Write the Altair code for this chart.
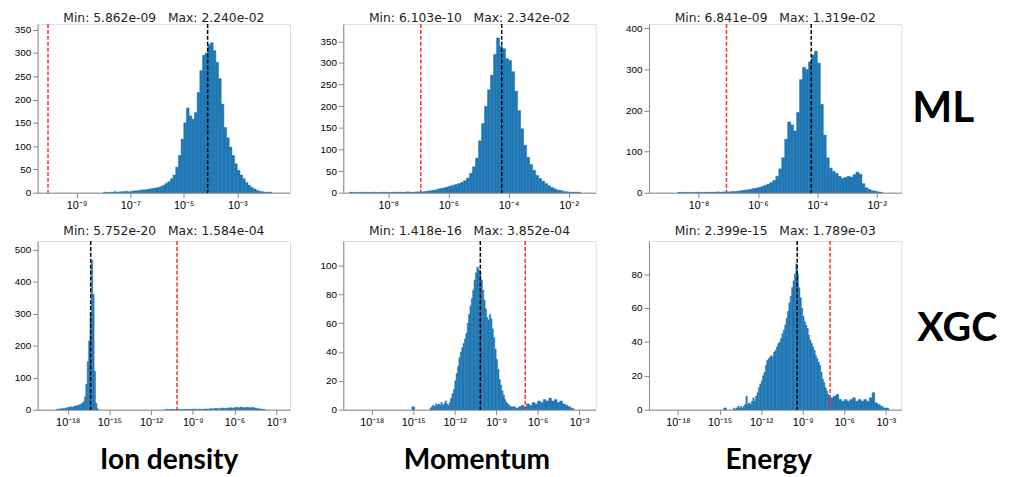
import altair as alt
import pandas as pd

# ---------------- data (log10 bin start, bin width in decades, counts) ----------------
ml_ion_start, ml_ion_step = -8.0, 0.1
ml_ion_counts = [1, 0, 1, 1, 2, 1, 2, 2, 3, 2,
                 3, 4, 4, 5, 6, 6, 7, 8, 9, 10,
                 11, 13, 16, 20, 24, 30, 38, 55, 80, 115,
                 150, 182, 165, 158, 172, 215, 262, 295, 300, 318,
                 322, 305, 280, 245, 190, 140, 118, 98, 80, 62,
                 48, 38, 30, 22, 16, 11, 8, 5, 3, 2,
                 1, 1, 1]

ml_mom_start, ml_mom_step = -9.3, 0.1
ml_mom_counts = [1, 0, 1, 0, 1, 1, 0, 1, 1, 0, 1, 1, 1, 0, 1, 1, 1, 1, 1, 2, 1, 1, 2,
                 2, 2, 3, 4, 5, 6, 8, 10, 11, 13,
                 15, 17, 19, 21, 24, 28, 34, 45, 60, 80,
                 120, 160, 200, 238, 272, 320, 358, 338, 333, 310,
                 306, 280, 235, 190, 148, 110, 82, 65, 52, 40,
                 33, 27, 21, 16, 12, 9, 6, 5, 3, 2,
                 1, 1, 1, 1]

ml_en_start, ml_en_step = -8.7, 0.1
ml_en_counts = [1, 0, 1, 1, 0, 1, 1, 1, 0, 1, 1, 1, 1, 2, 1, 2, 2,
                2, 3, 3, 4, 5, 6, 7, 8, 10, 11,
                13, 15, 18, 21, 25, 30, 40, 58, 85, 130,
                172, 165, 150, 195, 275, 305, 300, 318, 335, 344,
                315, 215, 140, 85, 60, 52, 47, 40, 35, 37,
                40, 38, 44, 50, 45, 22, 12, 8, 5, 4,
                2, 1]

xgc_ion_core_start, xgc_ion_core_step = -18.8, 0.1
xgc_ion_core_counts = [2, 0, 3, 2, 4, 3, 5, 6, 7, 8, 9, 8, 10, 11, 12, 13, 15, 17,
                       20, 25, 40, 80, 150, 215, 300, 467, 360, 120, 20, 3]
xgc_ion_tail_start, xgc_ion_tail_step = -11.0, 0.2
xgc_ion_tail_counts = [1, 0, 1, 0, 1, 1, 0, 1, 1, 1, 2, 1, 2, 1, 2, 2, 3, 3,
                       4, 3, 5, 4, 5, 6, 5, 7, 6, 8, 6, 7, 6, 7, 5, 3, 2, 1]

xgc_mom_speck_start, xgc_mom_speck_step = -15.1, 0.2
xgc_mom_speck_counts = [2]
xgc_mom_core_start, xgc_mom_core_step = -13.8, 0.1
xgc_mom_core_counts = [1, 2, 3, 2, 4, 3, 4, 3, 5, 3, 4, 6, 4, 3, 5, 8, 11, 14, 20, 25,
                       30, 36, 40, 43, 46, 49, 53, 60, 66, 72, 77, 83, 90, 95, 99, 97,
                       95, 90, 83, 76, 70, 64, 62, 66, 63, 56, 50, 42, 35, 28, 21, 17,
                       13, 10, 7, 5, 4, 3]
xgc_mom_tail_start, xgc_mom_tail_step = -8.0, 0.2
xgc_mom_tail_counts = [2, 2, 1, 2, 3, 2, 4, 3, 5, 4, 6, 5, 7, 6, 8, 6, 7, 5, 6, 4, 3, 2, 1]

xgc_en_speck_start, xgc_en_speck_step = -14.7, 0.2
xgc_en_speck_counts = [1]
xgc_en_core_start, xgc_en_core_step = -14.0, 0.1
xgc_en_core_counts = [1, 0, 1, 2, 1, 2, 1, 2, 3, 8, 3, 4, 3, 5, 7, 5, 8, 10, 13, 15,
                      17, 20, 22, 26, 29, 30, 31, 32, 31, 34, 35, 37, 39, 40, 42, 45,
                      47, 50, 54, 58, 63, 67, 72, 76, 80, 86, 80, 72, 66, 60, 55, 52,
                      50, 48, 44, 41, 39, 37, 35, 32, 30, 28, 26, 22, 18, 16, 13, 11, 9, 8]
xgc_en_tail_start, xgc_en_tail_step = -7.0, 0.2
xgc_en_tail_counts = [7, 8, 9, 6, 5, 6, 5, 6, 7, 5, 6, 5, 6, 5, 7, 10, 4, 3, 2, 1, 1]

# threshold (red) and central (black) markers
ml_red = [8.5e-11, 1.2e-07, 8.7e-08]
ml_black = [7.8e-05, 5.9e-05, 6.2e-05]
xgc_red = [7.4e-11, 1.26e-07, 9.3e-08]
xgc_black = [4.5e-17, 7.1e-11, 4.0e-10]

GAP = "\u00a0\u00a0\u00a0"
titles_ml = ["Min: 5.862e-09" + GAP + "Max: 2.240e-02",
             "Min: 6.103e-10" + GAP + "Max: 2.342e-02",
             "Min: 6.841e-09" + GAP + "Max: 1.319e-02"]
titles_xgc = ["Min: 5.752e-20" + GAP + "Max: 1.584e-04",
              "Min: 1.418e-16" + GAP + "Max: 3.852e-04",
              "Min: 2.399e-15" + GAP + "Max: 1.789e-03"]
columns = ["Ion density", "Momentum", "Energy"]
rows = ["ML", "XGC"]

# axis limits (log10) and y ranges
ml_xlim = [(-10.46, -1.03), (-9.5, -1.1), (-9.67, -1.17)]
xgc_xlim = [(-20.17, -2.0), (-20.06, -1.8), (-20.09, -1.88)]
ml_ymax = [362, 390, 410]
xgc_ymax = [527, 117, 99.5]
ml_yticks = [[0, 50, 100, 150, 200, 250, 300, 350],
             [0, 50, 100, 150, 200, 250, 300, 350],
             [0, 100, 200, 300, 400]]
xgc_yticks = [[0, 100, 200, 300, 400, 500],
              [0, 20, 40, 60, 80, 100],
              [0, 20, 40, 60, 80]]
ml_xticks = [[-9, -7, -5, -3], [-8, -6, -4, -2], [-8, -6, -4, -2]]
xgc_xticks = [-18, -15, -12, -9, -6, -3]

W, H = 256, 171
SUP = {"-": "\u207b", "0": "\u2070", "1": "\u00b9", "2": "\u00b2", "3": "\u00b3",
       "4": "\u2074", "5": "\u2075", "6": "\u2076", "7": "\u2077", "8": "\u2078", "9": "\u2079"}


def sup_label(e):
    return "10" + "".join(SUP[c] for c in str(e))


def label_expr(exps):
    expr = "''"
    for e in reversed(exps):
        expr = f"round(log(datum.value)/LN10) == {e} ? '{sup_label(e)}' : " + expr
    return expr


def hist_frame(segments):
    recs = []
    for start, step, counts in segments:
        for i, c in enumerate(counts):
            a = start + i * step
            recs.append({"x0": 10 ** a, "x1": 10 ** (a + step), "n": c})
    return pd.DataFrame(recs)


def panel(segments, xlim, ymax, yticks, xticks, red, black, title, title_offset,
          xtitle=None, titlex=None, rowlabel=None, rowlabel_pos=None, rowlabel_size=43):
    df = hist_frame(segments)
    xscale = alt.Scale(type="log", domain=[10 ** xlim[0], 10 ** xlim[1]], nice=False)
    yscale = alt.Scale(domain=[0, ymax], nice=False)
    common = dict(values=[10 ** e for e in xticks], labelExpr=label_expr(xticks),
                  grid=False, labelFontSize=11)
    if xtitle:
        xaxis = alt.Axis(title=xtitle, titleFont="Lato", titleFontSize=28.5,
                         titleFontWeight="bold", titleColor="black", titlePadding=19,
                         titleX=titlex, **common)
    else:
        xaxis = alt.Axis(title=None, **common)
    bars = alt.Chart(df).mark_rect(color="#1f77b4", stroke="#1f77b4", strokeWidth=0.5).encode(
        x=alt.X("x0:Q", scale=xscale, axis=xaxis),
        x2="x1:Q",
        y=alt.Y("n:Q", scale=yscale, axis=alt.Axis(values=yticks, title=None, grid=False)),
        y2=alt.datum(0),
    )
    red_rule = alt.Chart(pd.DataFrame({"x0": [red]})).mark_rule(
        color="#ff2a2a", strokeDash=[4, 2], strokeWidth=1.5).encode(x=alt.X("x0:Q", scale=xscale))
    black_rule = alt.Chart(pd.DataFrame({"x0": [black]})).mark_rule(
        color="black", strokeDash=[4, 2], strokeWidth=1.5).encode(x=alt.X("x0:Q", scale=xscale))
    layers = [bars, red_rule, black_rule]
    if rowlabel:
        lx, ly = rowlabel_pos
        txt = alt.Chart(pd.DataFrame({"t": [rowlabel]})).mark_text(
            font="Lato", fontSize=rowlabel_size, fontWeight="bold", align="left",
            baseline="alphabetic", color="black").encode(
            text="t:N", x=alt.value(lx), y=alt.value(ly))
        layers.append(txt)
    return alt.layer(*layers).properties(
        width=W, height=H,
        title=alt.TitleParams(title, font="DejaVu Sans", fontSize=12.5, fontWeight="normal",
                              color="#222", offset=title_offset))


ml_segments = [[(ml_ion_start, ml_ion_step, ml_ion_counts)],
               [(ml_mom_start, ml_mom_step, ml_mom_counts)],
               [(ml_en_start, ml_en_step, ml_en_counts)]]
xgc_segments = [[(xgc_ion_core_start, xgc_ion_core_step, xgc_ion_core_counts),
                 (xgc_ion_tail_start, xgc_ion_tail_step, xgc_ion_tail_counts)],
                [(xgc_mom_speck_start, xgc_mom_speck_step, xgc_mom_speck_counts),
                 (xgc_mom_core_start, xgc_mom_core_step, xgc_mom_core_counts),
                 (xgc_mom_tail_start, xgc_mom_tail_step, xgc_mom_tail_counts)],
                [(xgc_en_speck_start, xgc_en_speck_step, xgc_en_speck_counts),
                 (xgc_en_core_start, xgc_en_core_step, xgc_en_core_counts),
                 (xgc_en_tail_start, xgc_en_tail_step, xgc_en_tail_counts)]]

title_x = [133, 135, 121]

panels = []
for i in range(3):
    panels.append(panel(ml_segments[i], ml_xlim[i], ml_ymax[i], ml_yticks[i], ml_xticks[i],
                        ml_red[i], ml_black[i], titles_ml[i], -1,
                        rowlabel=rows[0] if i == 2 else None,
                        rowlabel_pos=(W + 11, 99), rowlabel_size=43))
for i in range(3):
    panels.append(panel(xgc_segments[i], xgc_xlim[i], xgc_ymax[i], xgc_yticks[i], xgc_xticks,
                        xgc_red[i], xgc_black[i], titles_xgc[i], 3,
                        xtitle=columns[i], titlex=title_x[i],
                        rowlabel=rows[1] if i == 2 else None,
                        rowlabel_pos=(W + 16, 101), rowlabel_size=40))

chart = alt.ConcatChart(concat=panels, columns=3, spacing={"row": 49, "column": 54},
                        bounds="flush").properties(
    padding={"left": 5, "top": 0, "right": 5, "bottom": 0}
).configure_view(
    stroke="#888", strokeWidth=1
).configure_axis(
    labelFont="DejaVu Sans", labelFontSize=10, labelColor="#333",
    tickColor="#555", tickSize=4, labelPadding=3, domain=False, grid=False
).configure(background="white")

chart.save("out.html", embed_options={"renderer": "svg", "actions": False})
